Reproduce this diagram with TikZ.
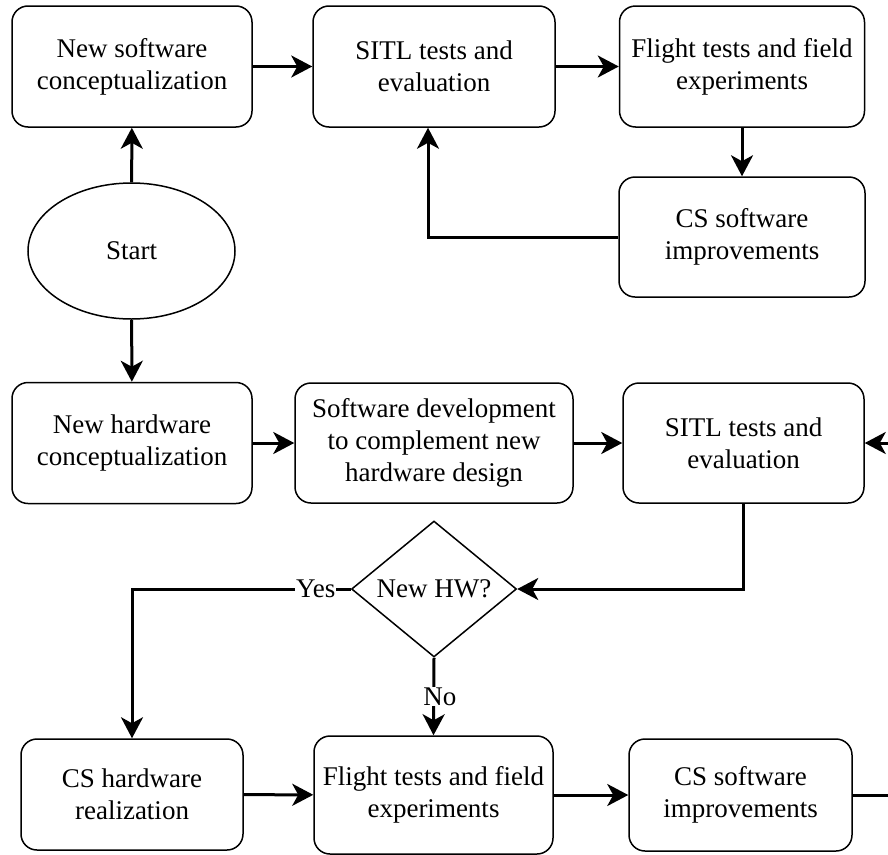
\documentclass[tikz,border=0pt]{standalone}
\usepackage{fontspec}
\setmainfont{Liberation Serif}
\usetikzlibrary{shapes.geometric, arrows.meta}

\begin{document}
\begin{tikzpicture}[x=1pt, y=-1pt, thick,
    every node/.style={font=\fontsize{27}{32}\selectfont},
    box/.style={draw, rounded corners=16pt, line width=1.5pt, align=center, inner sep=2pt},
    flow/.style={line width=3pt, -{Stealth[length=21pt, width=22pt, inset=6pt]}},
    lbl/.style={fill=white, inner sep=1pt}] % <--- 1pt = 1 像素

    % --- 定义变量 ---
    % 三列的中心 x 坐标
    \def\colA{132}
    \def\colB{434}
    \def\colC{742}

    % 画面大小固定为 888 x 854
    \useasboundingbox (0,0) rectangle (888,854);

    % --- 1. 上半部分：软件流程 ---
    \node[box, minimum width=240pt, minimum height=121pt] (swconcept) at (\colA,66.5) {New software\\conceptualization};
    \node[box, minimum width=242pt, minimum height=121pt] (sitltop) at (\colB,66.5) {SITL tests and\\evaluation};
    \node[box, minimum width=245pt, minimum height=121pt] (flighttop) at (\colC,66.5) {Flight tests and field\\experiments};
    \node[box, minimum width=246pt, minimum height=120pt] (cssoftop) at (\colC,237) {CS software\\improvements};

    % 起点 (椭圆)
    \node[draw, ellipse, line width=1.5pt, minimum width=207pt, minimum height=136pt] (start) at (131.5,251) {Start};

    % --- 2. 中间部分：硬件流程 ---
    \node[box, minimum width=240pt, minimum height=121pt] (hwconcept) at (\colA,443) {New hardware\\conceptualization};
    \node[box, minimum width=278pt, minimum height=120pt] (swdev) at (\colB,443) {Software development\\to complement new\\hardware design};
    \node[box, minimum width=241pt, minimum height=120pt] (sitlmid) at (743.5,443) {SITL tests and\\evaluation};

    % 判断框 (菱形)
    \node[draw, diamond, line width=1.5pt, inner sep=0pt, minimum width=165pt, minimum height=136pt] (newhw) at (\colB,589) {New HW?};

    % --- 3. 下半部分 ---
    \node[box, minimum width=222pt, minimum height=111pt] (hwreal) at (\colA,794.5) {CS hardware\\realization};
    \node[box, minimum width=239pt, minimum height=118pt] (flightbot) at (433.5,795) {Flight tests and field\\experiments};
    \node[box, minimum width=223pt, minimum height=112pt] (cssofbot) at (740.5,795) {CS software\\improvements};

    % 右边缘的两个端点 (线从画面外进来 / 出去)
    \coordinate (rin) at (888,443);
    \coordinate (rout) at (888,795);

    % --- 4. 连线 ---
    \draw[flow] (start) -- (swconcept);
    \draw[flow] (swconcept) -- (sitltop);
    \draw[flow] (sitltop) -- (flighttop);
    \draw[flow] (flighttop) -- (cssoftop);
    \draw[flow] (cssoftop.west) -| ([xshift=-6pt]sitltop.south);

    \draw[flow] (start) -- (hwconcept);
    \draw[flow] (hwconcept) -- (swdev);
    \draw[flow] (swdev) -- (sitlmid);
    \draw[flow] (rin) -- (sitlmid.east);
    \draw[flow] (sitlmid.south) |- (newhw.east);

    % Yes / No 两个分支
    \draw[flow] (newhw.west) -| node[lbl, pos=0.08] {Yes} (hwreal.north);
    \draw[flow] (newhw.south) -- node[lbl, xshift=6pt] {No} (flightbot.north);

    \draw[flow] (hwreal) -- (flightbot);
    \draw[flow] (flightbot) -- (cssofbot);
    \draw[line width=3pt] (cssofbot.east) -- (rout);

\end{tikzpicture}
\end{document}
